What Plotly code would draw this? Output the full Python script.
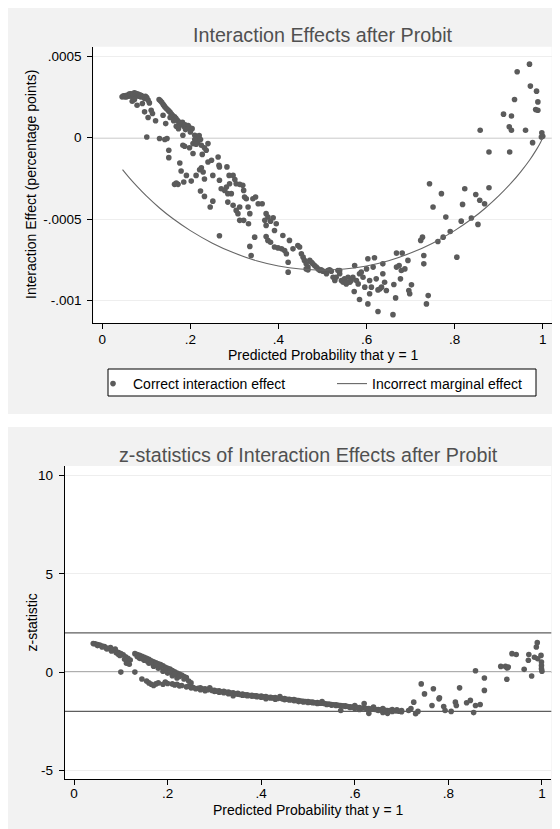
import plotly.graph_objects as go

# The page adds an 8px body margin, so the figure is 8px smaller and all
# reference pixel positions are shifted by that offset.
OFF = 8
W, H = 560 - OFF, 829 - OFF

# ---------------- data ----------------
# Top panel: correct interaction effect (predicted probability, effect)
left_cluster = [
    (0.045, 2.50e-4), (0.048, 2.56e-4), (0.051, 2.50e-4), (0.053, 2.58e-4), (0.055, 2.50e-4),
    (0.057, 2.60e-4), (0.059, 2.54e-4), (0.061, 2.67e-4), (0.063, 2.58e-4), (0.064, 2.69e-4),
    (0.067, 2.60e-4), (0.068, 2.50e-4), (0.070, 2.71e-4), (0.071, 2.60e-4), (0.073, 2.75e-4),
    (0.075, 2.64e-4), (0.077, 2.71e-4), (0.079, 2.58e-4), (0.081, 2.67e-4), (0.083, 2.54e-4),
    (0.085, 2.62e-4), (0.087, 2.50e-4), (0.089, 2.58e-4), (0.092, 2.50e-4), (0.096, 2.40e-4),
    (0.098, 2.54e-4), (0.101, 2.46e-4), (0.104, 2.30e-4), (0.107, 2.13e-4), (0.068, 2.23e-4),
    (0.073, 2.34e-4), (0.079, 1.99e-4), (0.091, 2.09e-4), (0.096, 1.58e-4), (0.104, 1.23e-4),
    (0.111, 1.68e-4), (0.114, 1.48e-4), (0.121, 1.03e-4), (0.101, 0.04e-4), (0.130, -0.06e-4),
    (0.142, -0.12e-4), (0.147, -0.06e-4),
]
descent_band = [
    (0.129, 2.34e-4), (0.132, 2.26e-4), (0.135, 2.17e-4), (0.138, 2.05e-4), (0.140, 1.97e-4),
    (0.142, 1.89e-4), (0.145, 1.80e-4), (0.148, 1.72e-4), (0.151, 1.64e-4), (0.154, 1.56e-4),
    (0.157, 1.44e-4), (0.160, 1.35e-4), (0.164, 1.27e-4), (0.167, 1.19e-4), (0.170, 1.07e-4),
    (0.173, 0.98e-4), (0.176, 0.90e-4), (0.179, 0.82e-4), (0.182, 0.94e-4), (0.185, 0.70e-4),
    (0.188, 0.78e-4), (0.191, 0.66e-4), (0.195, 0.74e-4), (0.198, 0.62e-4), (0.204, 0.55e-4),
    (0.138, 1.37e-4), (0.144, 0.86e-4), (0.154, 1.23e-4), (0.162, 1.03e-4), (0.168, 0.70e-4),
    (0.173, 0.55e-4), (0.183, 0.14e-4), (0.189, 0.49e-4), (0.200, 0.35e-4), (0.210, 0.14e-4),
    (0.215, 0.00e-4), (0.220, 0.12e-4), (0.223, -0.12e-4), (0.217, -0.27e-4), (0.210, -0.12e-4),
    (0.206, -0.37e-4), (0.213, -0.41e-4), (0.225, -0.47e-4), (0.232, -0.62e-4), (0.240, -0.37e-4),
    (0.236, -0.78e-4), (0.227, -1.03e-4), (0.206, -0.98e-4), (0.198, -0.62e-4), (0.187, -0.53e-4),
    (0.183, -0.47e-4), (0.151, -0.78e-4), (0.151, -1.23e-4), (0.176, -1.56e-4), (0.179, -2.05e-4),
    (0.191, -2.32e-4), (0.202, -2.67e-4), (0.185, -2.73e-4), (0.172, -2.87e-4), (0.164, -2.87e-4),
    (0.168, -2.79e-4), (0.223, -3.28e-4), (0.232, -3.61e-4), (0.251, -3.90e-4), (0.245, -4.26e-4),
    (0.221, -1.97e-4), (0.225, -1.85e-4), (0.229, -2.11e-4), (0.213, -2.32e-4), (0.232, -2.54e-4),
    (0.240, -1.50e-4), (0.248, -1.39e-4), (0.263, -1.19e-4), (0.265, -1.70e-4), (0.266, -1.80e-4),
    (0.251, -2.32e-4), (0.266, -2.62e-4), (0.270, -3.14e-4), (0.278, -3.24e-4), (0.285, -3.44e-4),
    (0.282, -3.03e-4), (0.283, -1.80e-4), (0.288, -2.32e-4), (0.297, -2.32e-4), (0.289, -2.83e-4),
    (0.301, -2.58e-4), (0.304, -2.83e-4), (0.312, -2.87e-4), (0.319, -2.93e-4), (0.321, -3.24e-4),
    (0.293, -3.44e-4), (0.285, -3.96e-4), (0.297, -4.16e-4), (0.304, -4.47e-4), (0.312, -4.26e-4),
    (0.308, -4.67e-4), (0.312, -5.08e-4), (0.321, -5.08e-4), (0.323, -3.65e-4), (0.327, -3.75e-4),
    (0.331, -4.26e-4), (0.335, -4.67e-4), (0.332, -5.29e-4), (0.342, -3.75e-4), (0.348, -3.65e-4),
    (0.354, -4.06e-4), (0.363, -4.06e-4), (0.372, -4.67e-4), (0.376, -4.88e-4), (0.382, -5.13e-4),
    (0.369, -5.08e-4), (0.388, -4.92e-4), (0.395, -5.29e-4), (0.391, -5.70e-4), (0.372, -5.39e-4),
    (0.372, -6.07e-4), (0.346, -6.11e-4), (0.335, -6.68e-4), (0.338, -7.24e-4), (0.376, -6.31e-4),
    (0.382, -6.42e-4), (0.391, -6.72e-4), (0.399, -6.77e-4), (0.407, -6.83e-4), (0.410, -6.01e-4),
    (0.425, -6.31e-4), (0.414, -6.93e-4), (0.418, -7.13e-4), (0.433, -6.83e-4), (0.444, -6.62e-4),
    (0.448, -6.72e-4), (0.422, -7.65e-4), (0.422, -8.26e-4), (0.266, -6.03e-4),
]
trough = [
    (0.452, -7.13e-4), (0.456, -7.34e-4), (0.459, -7.54e-4), (0.463, -7.75e-4), (0.467, -7.95e-4),
    (0.471, -7.54e-4), (0.475, -7.65e-4), (0.478, -7.75e-4), (0.482, -7.85e-4), (0.486, -7.95e-4),
    (0.490, -8.06e-4), (0.494, -8.16e-4), (0.497, -8.12e-4), (0.501, -8.20e-4), (0.509, -8.26e-4),
    (0.512, -8.16e-4), (0.516, -8.12e-4), (0.520, -8.20e-4), (0.524, -8.57e-4), (0.528, -8.77e-4),
    (0.531, -8.57e-4), (0.535, -8.16e-4), (0.539, -8.36e-4), (0.543, -8.77e-4), (0.547, -8.88e-4),
    (0.550, -8.67e-4), (0.554, -8.98e-4), (0.558, -8.57e-4), (0.562, -8.88e-4), (0.565, -8.77e-4),
    (0.569, -8.57e-4), (0.573, -7.85e-4), (0.577, -8.77e-4), (0.581, -8.98e-4), (0.584, -8.36e-4),
    (0.588, -8.26e-4), (0.592, -8.57e-4), (0.596, -9.18e-4), (0.600, -8.06e-4), (0.603, -7.44e-4),
    (0.607, -8.77e-4), (0.611, -9.18e-4), (0.615, -7.95e-4), (0.618, -7.38e-4), (0.622, -8.67e-4),
    (0.626, -9.35e-4), (0.630, -9.29e-4), (0.634, -9.18e-4), (0.637, -7.75e-4), (0.641, -8.88e-4),
    (0.645, -9.39e-4), (0.637, -8.36e-4), (0.584, -9.94e-4), (0.572, -9.45e-4), (0.603, -10.21e-4),
    (0.607, -9.59e-4), (0.626, -10.68e-4), (0.660, -10.87e-4), (0.666, -9.84e-4), (0.662, -9.02e-4),
    (0.668, -7.95e-4), (0.674, -7.85e-4), (0.677, -8.67e-4), (0.679, -8.16e-4), (0.687, -8.06e-4),
    (0.694, -7.54e-4), (0.696, -9.39e-4), (0.698, -9.59e-4), (0.702, -9.04e-4), (0.668, -7.09e-4),
    (0.681, -7.09e-4), (0.723, -6.31e-4), (0.727, -6.11e-4), (0.730, -7.24e-4), (0.730, -7.75e-4),
    (0.736, -10.21e-4), (0.740, -9.70e-4), (0.463, -8.06e-4), (0.467, -8.12e-4), (0.539, -8.16e-4),
    (0.554, -8.88e-4), (0.509, -8.36e-4),
]
upper_tail = [
    (0.743, -2.83e-4), (0.751, -4.26e-4), (0.770, -3.44e-4), (0.780, -4.88e-4), (0.762, -6.38e-4),
    (0.774, -6.11e-4), (0.790, -5.76e-4), (0.805, -7.34e-4), (0.815, -5.13e-4), (0.818, -4.10e-4),
    (0.823, -3.14e-4), (0.838, -4.94e-4), (0.848, -3.49e-4), (0.853, -5.33e-4), (0.857, -3.85e-4),
    (0.868, -4.06e-4), (0.878, -3.08e-4), (0.878, -0.88e-4), (0.858, 0.45e-4), (0.911, 1.44e-4),
    (0.929, 1.33e-4), (0.924, 0.66e-4), (0.929, 0.45e-4), (0.925, -0.88e-4), (0.936, 2.34e-4),
    (0.942, 4.04e-4), (0.961, 0.45e-4), (0.970, 4.51e-4), (0.972, 3.16e-4), (0.977, -0.31e-4),
    (0.986, 2.85e-4), (0.989, 2.19e-4), (0.984, 1.72e-4), (0.989, 1.68e-4), (0.998, 0.29e-4),
    (1.000, 0.08e-4), (0.997, 0.04e-4),
]
correct_points = left_cluster + descent_band + trough + upper_tail
correct_x = [p[0] for p in correct_points]
correct_y = [p[1] for p in correct_points]

# Top panel: incorrect marginal effect curve
marginal_x = [0.046, 0.06, 0.08, 0.10, 0.13, 0.16, 0.20, 0.25, 0.30, 0.35, 0.40, 0.45, 0.50,
              0.55, 0.60, 0.65, 0.70, 0.75, 0.80, 0.84, 0.87, 0.90, 0.93, 0.95, 0.97, 0.985,
              0.995, 1.0]
marginal_y = [-1.97e-4, -2.43e-4, -3.03e-4, -3.58e-4, -4.32e-4, -4.97e-4, -5.71e-4, -6.48e-4,
              -7.09e-4, -7.56e-4, -7.88e-4, -8.07e-4, -8.14e-4, -8.07e-4, -7.88e-4, -7.56e-4,
              -7.09e-4, -6.48e-4, -5.71e-4, -4.97e-4, -4.32e-4, -3.58e-4, -2.74e-4, -2.10e-4,
              -1.39e-4, -0.77e-4, -0.30e-4, 0.0]

# Bottom panel: z-statistics (predicted probability, z)
z_left = [
    (0.041, 1.45), (0.045, 1.44), (0.050, 1.40), (0.055, 1.38), (0.060, 1.33), (0.065, 1.30),
    (0.070, 1.22), (0.075, 1.20), (0.080, 1.15), (0.085, 1.12), (0.090, 1.05), (0.095, 1.00),
    (0.100, 0.95), (0.105, 0.88), (0.110, 0.78), (0.115, 0.70), (0.120, 0.62), (0.078, 1.25),
    (0.088, 1.18), (0.098, 0.85), (0.108, 0.65), (0.100, 0.00), (0.112, 0.45), (0.118, 0.40),
    (0.050, 1.35), (0.060, 1.28), (0.070, 1.18), (0.080, 1.08), (0.090, 0.98), (0.095, 0.90),
]
z_mid = [
    (0.130, 0.94), (0.135, 0.90), (0.140, 0.85), (0.145, 0.80), (0.150, 0.75), (0.155, 0.70),
    (0.160, 0.65), (0.165, 0.58), (0.170, 0.52), (0.175, 0.48), (0.180, 0.42), (0.185, 0.38),
    (0.190, 0.32), (0.195, 0.25), (0.200, 0.20), (0.205, 0.15), (0.210, 0.08), (0.215, 0.02),
    (0.220, -0.05), (0.225, -0.10), (0.230, -0.15), (0.235, -0.22), (0.240, -0.28), (0.140, 0.70),
    (0.150, 0.60), (0.160, 0.45), (0.170, 0.30), (0.180, 0.20), (0.190, 0.05), (0.200, -0.05),
    (0.210, -0.18), (0.220, -0.30), (0.130, 0.00), (0.145, -0.35), (0.155, -0.45), (0.160, -0.55),
    (0.165, -0.62), (0.170, -0.68), (0.175, -0.60), (0.180, -0.55), (0.190, -0.62), (0.195, -0.50),
    (0.200, -0.58), (0.210, -0.60), (0.215, -0.65), (0.220, -0.62), (0.225, -0.70), (0.230, -0.68),
    (0.240, -0.75), (0.245, -0.72), (0.250, -0.80), (0.255, -0.78), (0.260, -0.85), (0.265, -0.82),
    (0.135, 0.80), (0.145, 0.68), (0.155, 0.58), (0.165, 0.48), (0.175, 0.38), (0.185, 0.28),
    (0.195, 0.15), (0.205, 0.05), (0.215, -0.10), (0.225, -0.22), (0.235, -0.35), (0.245, -0.45),
    (0.250, -0.55),
]
z_main = [
    (0.27, -0.80), (0.27, -0.90), (0.28, -0.85), (0.28, -0.95), (0.29, -0.88), (0.29, -0.80),
    (0.30, -0.92), (0.30, -0.98), (0.31, -0.95), (0.31, -1.02), (0.32, -0.98), (0.32, -1.05),
    (0.33, -1.02), (0.33, -1.10), (0.34, -1.05), (0.34, -1.20), (0.35, -1.08), (0.35, -1.12),
    (0.36, -1.12), (0.36, -1.18), (0.37, -1.15), (0.37, -1.20), (0.38, -1.18), (0.38, -1.22),
    (0.39, -1.20), (0.39, -1.25), (0.40, -1.22), (0.40, -1.28), (0.41, -1.25), (0.41, -1.35),
    (0.42, -1.28), (0.42, -1.32), (0.43, -1.30), (0.43, -1.38), (0.44, -1.32), (0.44, -1.25),
    (0.45, -1.35), (0.45, -1.40), (0.46, -1.38), (0.46, -1.42), (0.47, -1.40), (0.47, -1.45),
    (0.48, -1.45), (0.48, -1.50), (0.49, -1.48), (0.49, -1.52), (0.50, -1.50), (0.50, -1.55),
    (0.51, -1.52), (0.51, -1.56), (0.52, -1.55), (0.52, -1.60), (0.53, -1.58), (0.53, -1.50),
    (0.54, -1.62), (0.54, -1.65), (0.55, -1.65), (0.55, -1.68), (0.56, -1.66), (0.56, -1.70),
    (0.57, -1.70), (0.57, -1.95), (0.58, -1.72), (0.58, -1.75), (0.59, -1.76), (0.59, -1.80),
    (0.60, -1.70), (0.60, -1.85), (0.61, -1.80), (0.61, -1.90), (0.62, -1.82), (0.62, -1.60),
    (0.63, -1.85), (0.63, -2.10), (0.64, -1.88), (0.64, -1.78), (0.65, -1.90), (0.65, -1.95),
    (0.66, -1.85), (0.66, -2.05), (0.67, -1.95), (0.67, -2.10), (0.68, -1.90), (0.68, -2.00),
    (0.69, -1.98), (0.69, -1.92), (0.70, -1.95), (0.70, -2.02), (0.715, -1.95), (0.72, -1.85),
    (0.275, -0.86), (0.285, -0.90), (0.295, -0.93), (0.305, -0.97), (0.315, -1.00), (0.325, -1.03),
    (0.335, -1.07), (0.345, -1.10), (0.355, -1.14), (0.365, -1.16), (0.375, -1.19), (0.385, -1.21),
    (0.395, -1.24), (0.405, -1.26), (0.415, -1.29), (0.425, -1.31), (0.435, -1.34), (0.445, -1.36),
    (0.455, -1.38), (0.465, -1.41), (0.475, -1.44), (0.485, -1.47), (0.495, -1.50), (0.505, -1.53),
    (0.515, -1.56), (0.525, -1.58), (0.535, -1.60), (0.545, -1.63), (0.555, -1.66), (0.565, -1.69),
    (0.575, -1.72), (0.585, -1.75), (0.595, -1.78), (0.605, -1.80), (0.615, -1.84), (0.625, -1.86),
    (0.635, -1.88), (0.645, -1.90), (0.655, -1.92), (0.665, -1.94), (0.675, -1.96), (0.685, -1.97),
    (0.695, -1.99),
]
z_right = [
    (0.726, -1.53), (0.730, -2.12), (0.735, -2.00), (0.742, -0.60), (0.749, -1.11), (0.765, -1.70),
    (0.768, -0.85), (0.780, -1.36), (0.781, -1.31), (0.790, -1.75), (0.793, -1.95), (0.806, -2.00),
    (0.815, -1.53), (0.817, -1.70), (0.824, -0.80), (0.839, -1.56), (0.847, -1.44), (0.854, -2.06),
    (0.858, -1.70), (0.868, -1.65), (0.858, 0.07), (0.877, -0.30), (0.877, -0.93), (0.912, 0.29),
    (0.922, 0.29), (0.926, 0.21), (0.928, 0.26), (0.925, -0.36), (0.936, 0.94), (0.945, 0.90),
    (0.962, 0.14), (0.972, 0.90), (0.971, 0.60), (0.978, -0.20), (0.984, 0.76), (0.988, 1.28),
    (0.990, 1.50), (0.991, 0.68), (0.998, 0.85), (0.999, 0.51), (0.999, 0.34), (0.999, 0.17),
    (1.000, 0.05),
]
z_points = z_left + z_mid + z_main + z_right
z_x = [p[0] for p in z_points]
z_y = [p[1] for p in z_points]

# Reference lines and ticks
top_ref_lines = [0]
bottom_ref_lines = [-2, 0, 2]
x_tickvals = [0, 0.2, 0.4, 0.6, 0.8, 1]
x_ticktext = ["0", ".2", ".4", ".6", ".8", "1"]
top_tickvals = [-0.001, -0.0005, 0, 0.0005]
top_ticktext = ["-.001", "-.0005", "0", ".0005"]
bottom_tickvals = [-5, 0, 5, 10]
bottom_ticktext = ["-5", "0", "5", "10"]

# ---------------- styling ----------------
FONT = "Liberation Sans, Arial, Helvetica, sans-serif"
MARK = "#5b5b5b"
LINEC = "#666666"
PANEL = "#f2f2f2"
GRID = "#eeeeee"


def px(x):
    return max(0.0, (x - OFF) / W)


def py(y):
    return min(1.0, 1 - (y - OFF) / H)


top_dom_x = [px(93.3), px(551.7)]
top_dom_y = [py(323.3), py(46.7)]
bot_dom_x = [px(64.7), px(551.3)]
bot_dom_y = [py(779.0), py(466.0)]

fig = go.Figure()
fig.add_trace(go.Scatter(
    x=correct_x, y=correct_y, mode="markers", name="Correct interaction effect",
    marker=dict(color=MARK, size=5.6, line=dict(width=0)), xaxis="x", yaxis="y",
    legend="legend"))
fig.add_trace(go.Scatter(
    x=marginal_x, y=marginal_y, mode="lines", name="Incorrect marginal effect",
    line=dict(color=LINEC, width=1.1, shape="spline"), xaxis="x", yaxis="y",
    legend="legend2"))
fig.add_trace(go.Scatter(
    x=z_x, y=z_y, mode="markers", showlegend=False,
    marker=dict(color=MARK, size=5.6, line=dict(width=0)), xaxis="x2", yaxis="y2"))

axis_common = dict(
    showline=True, linecolor="black", linewidth=1, mirror=False,
    ticks="outside", ticklen=5, tickcolor="black", tickwidth=1,
    tickfont=dict(family=FONT, size=13.5, color="black"),
    zeroline=False,
)

legend_common = dict(
    orientation="h", xanchor="left", yanchor="top",
    bgcolor="rgba(0,0,0,0)", borderwidth=0,
    font=dict(family=FONT, size=14, color="black"), itemwidth=30,
)

fig.update_layout(
    width=W, height=H,
    margin=dict(l=0, r=0, t=0, b=0, autoexpand=False),
    paper_bgcolor="white", plot_bgcolor="white",
    font=dict(family=FONT, color="black"),
    xaxis=dict(domain=top_dom_x, anchor="y", range=[-0.0204, 1.0204],
               tickvals=x_tickvals, ticktext=x_ticktext, showgrid=False,
               ticklabelstandoff=-2, **axis_common),
    yaxis=dict(domain=top_dom_y, anchor="x", range=[-0.00114, 0.000558],
               tickvals=top_tickvals, ticktext=top_ticktext, showgrid=True,
               gridcolor=GRID, gridwidth=1, ticklabelstandoff=3, **axis_common),
    xaxis2=dict(domain=bot_dom_x, anchor="y2", range=[-0.02, 1.02],
                tickvals=x_tickvals, ticktext=x_ticktext, showgrid=False,
                ticklabelstandoff=-3, **axis_common),
    yaxis2=dict(domain=bot_dom_y, anchor="x2", range=[-5.44, 10.49],
                tickvals=bottom_tickvals, ticktext=bottom_ticktext, showgrid=True,
                gridcolor=GRID, gridwidth=1, ticklabelstandoff=3, **axis_common),
    showlegend=True,
    legend=dict(x=px(93), y=py(368), **legend_common),
    legend2=dict(x=px(332), y=py(368), **legend_common),
)

shapes = [
    # grey outer panels
    dict(type="rect", xref="paper", yref="paper", x0=px(6), x1=1, y0=py(414), y1=py(8),
         fillcolor=PANEL, line=dict(width=0), layer="below"),
    dict(type="rect", xref="paper", yref="paper", x0=px(6), x1=1, y0=0, y1=py(427),
         fillcolor=PANEL, line=dict(width=0), layer="below"),
    # white plot regions
    dict(type="rect", xref="paper", yref="paper", x0=top_dom_x[0], x1=top_dom_x[1],
         y0=top_dom_y[0], y1=top_dom_y[1], fillcolor="white", line=dict(width=0), layer="below"),
    dict(type="rect", xref="paper", yref="paper", x0=bot_dom_x[0], x1=bot_dom_x[1],
         y0=bot_dom_y[0], y1=bot_dom_y[1], fillcolor="white", line=dict(width=0), layer="below"),
    # legend box
    dict(type="rect", xref="paper", yref="paper", x0=px(108), x1=px(536), y0=py(396), y1=py(369),
         fillcolor="white", line=dict(color="black", width=1), layer="below"),
]
for v in top_ref_lines:
    shapes.append(dict(type="line", xref="x domain", yref="y", x0=0, x1=1, y0=v, y1=v,
                       line=dict(color="#6e6e6e", width=1.2), layer="below"))
for v in bottom_ref_lines:
    shapes.append(dict(type="line", xref="x2 domain", yref="y2", x0=0, x1=1, y0=v, y1=v,
                       line=dict(color="#5e5e5e", width=1.2), layer="below"))
fig.update_layout(shapes=shapes)

TITLE_C = "#505050"
annotations = [
    dict(text="Interaction Effects after Probit", x=(top_dom_x[0] + top_dom_x[1]) / 2, y=py(35),
         font=dict(family=FONT, size=19.7, color=TITLE_C)),
    dict(text="z-statistics of Interaction Effects after Probit", x=(bot_dom_x[0] + bot_dom_x[1]) / 2,
         y=py(455), font=dict(family=FONT, size=19.7, color=TITLE_C)),
    dict(text="Predicted Probability that y = 1", x=(top_dom_x[0] + top_dom_x[1]) / 2, y=py(355),
         font=dict(family=FONT, size=14, color="black")),
    dict(text="Predicted Probability that y = 1", x=(bot_dom_x[0] + bot_dom_x[1]) / 2, y=py(810),
         font=dict(family=FONT, size=14, color="black")),
    dict(text="Interaction Effect (percentage points)", x=px(31), y=(top_dom_y[0] + top_dom_y[1]) / 2,
         textangle=-90, font=dict(family=FONT, size=14, color="black")),
    dict(text="z-statistic", x=px(31), y=(bot_dom_y[0] + bot_dom_y[1]) / 2,
         textangle=-90, font=dict(family=FONT, size=14, color="black")),
]
for a in annotations:
    a.update(xref="paper", yref="paper", showarrow=False, xanchor="center", yanchor="middle")
fig.update_layout(annotations=annotations)

fig.write_html("out.html")
